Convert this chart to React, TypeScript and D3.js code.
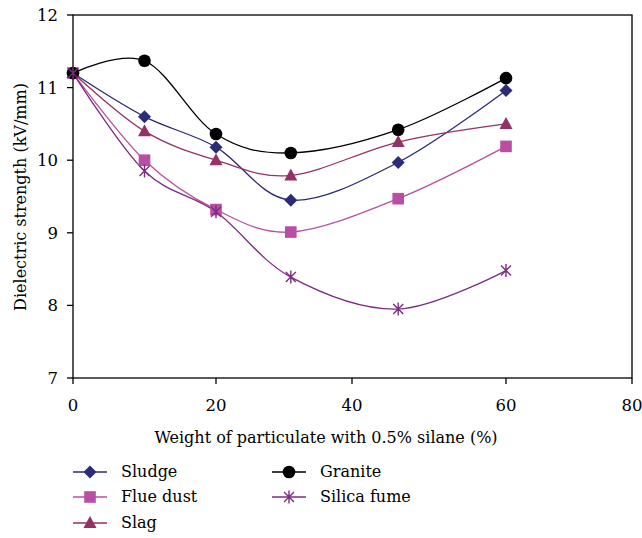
import { useEffect } from "react";
import * as d3 from "d3";

// x positions (wt %) and dielectric strength (kV/mm) per series
const xValues = [0, 10, 20, 31, 46, 60];
const sludge = [11.2, 10.6, 10.18, 9.45, 9.97, 10.96];
const flueDust = [11.2, 10.0, 9.32, 9.01, 9.47, 10.19];
const slag = [11.2, 10.4, 10.0, 9.79, 10.25, 10.5];
const granite = [11.2, 11.37, 10.36, 10.1, 10.42, 11.13];
const silicaFume = [11.2, 9.85, 9.29, 8.39, 7.95, 8.48];

const xTicks = [0, 20, 40, 60, 80];
const yTicks = [7, 8, 9, 10, 11, 12];

const series = [
  { name: "Sludge", values: sludge, color: "#2b2b78", marker: "diamond" },
  { name: "Flue dust", values: flueDust, color: "#b94fa2", marker: "square" },
  { name: "Slag", values: slag, color: "#953165", marker: "triangle" },
  { name: "Granite", values: granite, color: "#000000", marker: "circle" },
  { name: "Silica fume", values: silicaFume, color: "#7b2d82", marker: "star" },
];

const FONT = "DejaVu Serif";

function Marker({ type, x, y, color }: { type: string; x: number; y: number; color: string }) {
  if (type === "circle") return <circle cx={x} cy={y} r={6.3} fill={color} />;
  if (type === "square") return <rect x={x - 5.8} y={y - 5.8} width={11.6} height={11.6} fill={color} />;
  if (type === "diamond")
    return <path d={`M${x},${y - 6.5}L${x + 6.5},${y}L${x},${y + 6.5}L${x - 6.5},${y}Z`} fill={color} />;
  if (type === "triangle")
    return <path d={`M${x},${y - 7}L${x + 6.5},${y + 5}L${x - 6.5},${y + 5}Z`} fill={color} />;
  // asterisk
  return (
    <path
      d={`M${x - 5},${y - 5}L${x + 5},${y + 5}M${x - 5},${y + 5}L${x + 5},${y - 5}M${x},${y - 6.5}L${x},${y + 6.5}`}
      stroke={color}
      strokeWidth={1.4}
      fill="none"
    />
  );
}

export default function App() {
  useEffect(() => {
    document.body.style.margin = "0";
  }, []);

  const width = 642;
  const height = 538;
  const left = 73;
  const right = 632;
  const top = 15;
  const bottom = 378;

  // the original axis is not evenly spaced, so map tick by tick
  const x = d3.scaleLinear().domain(xTicks).range([left, 216, 352, 506, right]);
  const y = d3.scaleLinear().domain([7, 12]).range([bottom, top]);

  const line = d3
    .line<number>()
    .x((_, i) => x(xValues[i]))
    .y((d) => y(d))
    .curve(d3.curveCatmullRom.alpha(0));

  const legendPos = [
    [73, 472],
    [73, 497],
    [73, 523],
    [272, 472],
    [272, 497],
  ];

  return (
    <svg width={width} height={height} style={{ display: "block" }}>
      <rect width={width} height={height} fill="#fff" />
      {/* frame */}
      <rect x={left} y={top} width={right - left} height={bottom - top} fill="none" stroke="#000" strokeWidth={1.3} />
      {yTicks.map((t) => (
        <g key={t}>
          <line x1={left - 6} x2={left} y1={y(t)} y2={y(t)} stroke="#000" strokeWidth={1.3} />
          <text x={left - 15} y={y(t)} dy="0.36em" textAnchor="end" fontSize={16.5} fontFamily={FONT}>
            {t}
          </text>
        </g>
      ))}
      {xTicks.map((t) => (
        <g key={t}>
          <line x1={x(t)} x2={x(t)} y1={bottom} y2={bottom + 6} stroke="#000" strokeWidth={1.3} />
          <text x={x(t)} y={bottom + 33} textAnchor="middle" fontSize={16.5} fontFamily={FONT}>
            {t}
          </text>
        </g>
      ))}
      <text x={326} y={443} textAnchor="middle" fontSize={16} fontFamily={FONT}>
        Weight of particulate with 0.5% silane (%)
      </text>
      <text transform="translate(26,197) rotate(-90)" textAnchor="middle" fontSize={16} fontFamily={FONT}>
        Dielectric strength (kV/mm)
      </text>

      {series.map((s) => (
        <path key={s.name} d={line(s.values) || ""} fill="none" stroke={s.color} strokeWidth={1.3} />
      ))}
      {series.map((s) => (
        <g key={s.name}>
          {s.values.map((v, i) => (
            <Marker key={i} type={s.marker} x={x(xValues[i])} y={y(v)} color={s.color} />
          ))}
        </g>
      ))}

      {series.map((s, i) => {
        const [lx, ly] = legendPos[i];
        return (
          <g key={s.name}>
            <line x1={lx} x2={lx + 34} y1={ly} y2={ly} stroke={s.color} strokeWidth={1.3} />
            <Marker type={s.marker} x={lx + 17} y={ly} color={s.color} />
            <text x={lx + 48} y={ly} dy="0.34em" fontSize={16} fontFamily={FONT}>
              {s.name}
            </text>
          </g>
        );
      })}
    </svg>
  );
}
